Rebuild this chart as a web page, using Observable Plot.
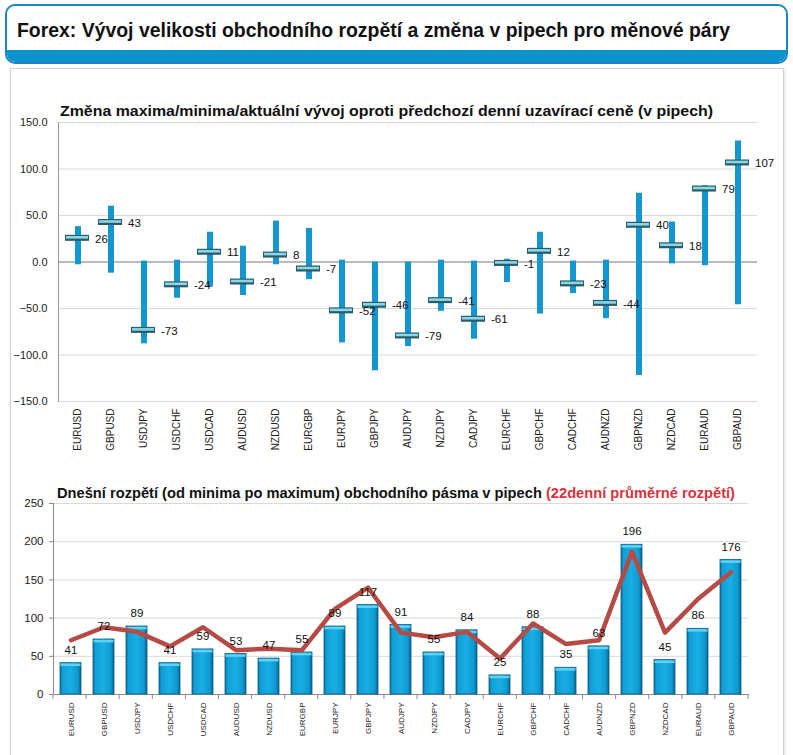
<!DOCTYPE html>
<html>
<head>
<meta charset="utf-8">
<script src="https://cdn.jsdelivr.net/npm/d3@7"></script>
<script src="https://cdn.jsdelivr.net/npm/@observablehq/plot@0.6"></script>
<style>
  html, body { margin: 0; padding: 0; background: #ffffff; }
  body { width: 793px; height: 755px; position: relative; overflow: hidden; font-family: Arial, "Liberation Sans", sans-serif; }
  #header { position: absolute; left: 5px; top: 4px; width: 779px; height: 56px; border: 2px solid #1e84c4; border-radius: 10px; background: #fff; overflow: hidden; }
  #header .strip { position: absolute; left: 0; right: 0; bottom: 0; height: 12px; background: #0a93cd; }
  #header .title { position: absolute; left: 10px; top: 12px; font-size: 21px; font-weight: bold; color: #111; white-space: nowrap; transform-origin: left center; }
  #panel { position: absolute; left: 10px; top: 68px; width: 772px; height: 720px; border: 1px solid #d2d2d2; box-shadow: 1px 1px 3px rgba(0,0,0,0.12); background: #fff; }
  .ctitle { position: absolute; font-weight: bold; color: #111; white-space: nowrap; transform-origin: left top; }
  .ctitle .red { color: #d7343c; }
  .chart { position: absolute; left: 0; }
</style>
</head>
<body>
<div id="header"><div class="title" id="htitle">Forex: Vývoj velikosti obchodního rozpětí a změna v pipech pro měnové páry</div><div class="strip"></div></div>
<div id="panel"></div>
<div class="ctitle" id="t1" style="left:60px; top:102px; font-size:15.5px;">Změna maxima/minima/aktuální vývoj oproti předchozí denní uzavírací ceně (v pipech)</div>
<div class="ctitle" id="t2" style="left:57px; top:485px; font-size:14.5px;">Dnešní rozpětí (od minima po maximum) obchodního pásma v pipech <span class="red">(22denní průměrné rozpětí)</span></div>
<div class="chart" id="c1" style="top:100px;"></div>
<div class="chart" id="c2" style="top:480px;"></div>
<script>
// ---- data ----
const pairs = ["EURUSD","GBPUSD","USDJPY","USDCHF","USDCAD","AUDUSD","NZDUSD","EURGBP","EURJPY","GBPJPY","AUDJPY","NZDJPY","CADJPY","EURCHF","GBPCHF","CADCHF","AUDNZD","GBPNZD","NZDCAD","EURAUD","GBPAUD"];
const highChange = [38, 60, 1, 2, 32, 17, 44, 36, 2, 0, 0, 2, 1, 3, 32, 1, 2, 74, 43, 82, 130];
const lowChange  = [-3, -12, -88, -39, -27, -36, -3, -19, -87, -117, -91, -53, -83, -22, -56, -34, -61, -122, -2, -4, -46];
const curChange  = [26, 43, -73, -24, 11, -21, 8, -7, -52, -46, -79, -41, -61, -1, 12, -23, -44, 40, 18, 79, 107];
const todayRange = [41, 72, 89, 41, 59, 53, 47, 55, 89, 117, 91, 55, 84, 25, 88, 35, 63, 196, 45, 86, 176];
const avgRange22 = [71, 88, 82, 63, 88, 58, 60, 58, 112, 140, 81, 75, 82, 47, 93, 66, 71, 187, 81, 125, 160];
const yTicksTop = [-150, -100, -50, 0, 50, 100, 150];
const yTicksBottom = [0, 50, 100, 150, 200, 250];

const changeData = pairs.map((p, i) => ({pair: p, high: highChange[i], low: lowChange[i], cur: curChange[i]}));
const rangeData = pairs.map((p, i) => ({pair: p, today: todayRange[i], avg: avgRange22[i]}));

const font = "Arial, 'Liberation Sans', sans-serif";

// ---- top chart ----
const c1 = Plot.plot({
  width: 793, height: 358,
  marginLeft: 58, marginRight: 36, marginTop: 22, marginBottom: 57,
  style: {fontFamily: font, fontSize: "11px", color: "#222", background: "transparent", overflow: "visible"},
  x: {domain: pairs, padding: 0, label: null},
  y: {domain: [-150, 150], label: null},
  marks: [
    Plot.gridY(yTicksTop, {stroke: "#d9d9d9", strokeOpacity: 1}),
    Plot.ruleY([0], {stroke: "#8a8a8a"}),
    Plot.frame({anchor: "left", stroke: "#9a9a9a"}),
    Plot.axisY({ticks: yTicksTop, tickFormat: d3.format(".1f"), tickSize: 0, tickPadding: 11, label: null, fontSize: 11}),
    Plot.axisX({tickRotate: -90, tickSize: 0, tickPadding: 7, label: null, fontSize: 10}),
    Plot.ruleX(changeData, {x: "pair", y1: "low", y2: "high", stroke: "#1596cf", strokeWidth: 6}),
    Plot.tickY(changeData, {x: "pair", y: "cur", stroke: "#2e5a66", strokeWidth: 6, insetLeft: 4, insetRight: 5}),
    Plot.tickY(changeData, {x: "pair", y: "cur", stroke: "#86d9ec", strokeWidth: 2.6, insetLeft: 5, insetRight: 6, dy: -0.5}),
    Plot.text(changeData, {x: "pair", y: "cur", text: d => String(d.cur), textAnchor: "start", dx: 17, dy: 1, fontSize: 11.5, fill: "#111"})
  ]
});
document.getElementById("c1").appendChild(c1);

// ---- bottom chart ----
function gradientDefs() {
  const defs = d3.create("svg:defs");
  const g = defs.append("linearGradient").attr("id", "barGrad").attr("x1", 0).attr("x2", 1).attr("y1", 0).attr("y2", 0);
  [[0, "#07709f"], [0.12, "#109fd6"], [0.5, "#19aee3"], [0.85, "#0e9ad0"], [1, "#06628c"]].forEach(([o, c]) =>
    g.append("stop").attr("offset", o).attr("stop-color", c));
  return defs.node();
}
function categoryTicks(index, scales, values, dims) {
  const n = pairs.length;
  const step = (dims.width - dims.marginLeft - dims.marginRight) / n;
  const y0 = dims.height - dims.marginBottom;
  const g = d3.create("svg:g").attr("stroke", "#8a8a8a");
  for (let i = 0; i <= n; i++) {
    const xx = dims.marginLeft + i * step;
    g.append("line").attr("x1", xx).attr("x2", xx).attr("y1", y0).attr("y2", y0 + 5);
  }
  return g.node();
}
const c2 = Plot.plot({
  width: 793, height: 280,
  marginLeft: 53, marginRight: 45, marginTop: 23, marginBottom: 66,
  style: {fontFamily: font, fontSize: "11px", color: "#222", background: "transparent", overflow: "visible"},
  x: {domain: pairs, padding: 0, label: null},
  y: {domain: [0, 250], label: null},
  marks: [
    gradientDefs,
    Plot.gridY(yTicksBottom, {stroke: "#d9d9d9", strokeOpacity: 1}),
    Plot.frame({anchor: "left", stroke: "#8a8a8a"}),
    Plot.frame({anchor: "bottom", stroke: "#8a8a8a"}),
    Plot.axisY({ticks: yTicksBottom, tickSize: 4, tickPadding: 6, label: null, fontSize: 11.5, stroke: "#8a8a8a"}),
    Plot.axisX({tickRotate: -90, tickSize: 0, tickPadding: 8, label: null, fontSize: 8}),
    categoryTicks,
    Plot.barY(rangeData, {x: "pair", y: "today", fill: "url(#barGrad)", stroke: "#0a5d82", strokeWidth: 0.8, insetLeft: 6, insetRight: 6}),
    Plot.tickY(rangeData, {x: "pair", y: "today", stroke: "#5fd2f6", strokeWidth: 2.5, dy: 1.6, insetLeft: 6.5, insetRight: 6.5}),
    Plot.line(rangeData, {x: "pair", y: "avg", stroke: "#b64a44", strokeWidth: 4.5, strokeLinejoin: "round"}),
    Plot.text(rangeData, {x: "pair", y: "today", text: d => String(d.today), dy: -13, fontSize: 11.5, fill: "#111"})
  ]
});
document.getElementById("c2").appendChild(c2);

// ---- fit titles to the reference widths ----
function fit(id, target) {
  const el = document.getElementById(id);
  const w = el.getBoundingClientRect().width;
  if (w > 0) el.style.transform = `scaleX(${target / w})`;
}
fit("htitle", 713);
fit("t1", 653);
fit("t2", 678);
</script>
</body>
</html>
